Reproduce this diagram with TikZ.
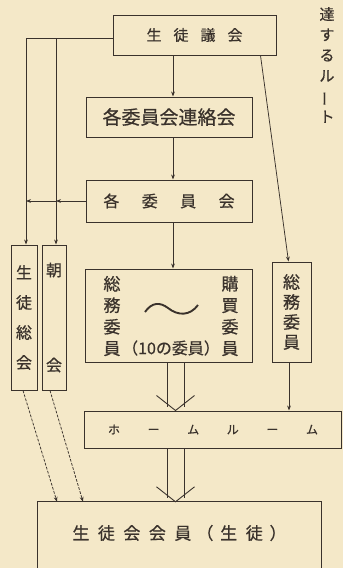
\documentclass[tikz,border=0pt]{standalone}
\usepackage{fontspec}
\setmainfont{Noto Sans CJK JP}[FakeBold=0.6]
\usetikzlibrary{arrows.meta}
\definecolor{paper}{RGB}{244,232,200}
\definecolor{ink}{RGB}{58,50,44}
\tikzset{
  box/.style={draw=ink, line width=1pt, inner sep=0pt, text=ink},
  lbl/.style={text=ink, inner sep=0pt, align=center},
  arr/.style={draw=ink, line width=0.75pt, -{Stealth[length=5pt,width=3.8pt]}},
  ln/.style={draw=ink, line width=0.9pt},
  dsh/.style={arr, dash pattern=on 2.8pt off 1.4pt}
}
\begin{document}
\begin{tikzpicture}[x=1pt,y=-1pt]
\fill[paper] (0,0) rectangle (343,568);
\useasboundingbox (0,0) rectangle (343,568);
\clip (0,0) rectangle (343,568);

% boxes
\node[box, minimum width=163pt, minimum height=40pt, font=\fontsize{15}{15}\selectfont] (giin) at (194.5,35)
  {生\hspace{0.8em}徒\hspace{0.8em}議\hspace{0.8em}会};
\node[box, minimum width=166pt, minimum height=40pt, font=\fontsize{19}{19}\selectfont] (renraku) at (169,117)
  {各委員会連絡会};
\node[box, minimum width=166pt, minimum height=42pt, font=\fontsize{16}{16}\selectfont] (iinkai) at (169,201)
  {各\hspace{1.4em}委\hspace{1.4em}員\hspace{1.4em}会};
\node[box, minimum width=26pt, minimum height=145pt, align=center, font=\fontsize{16}{30}\selectfont] (soukai) at (24,317.5)
  {生\\徒\\総\\会};
\node[box, minimum width=24pt, minimum height=145pt, align=center, font=\fontsize{16}{95}\selectfont] (choukai) at (54,317.5)
  {朝\\会};
\node[box, minimum width=167pt, minimum height=93pt] (mid) at (168.5,315.5) {};
\node[lbl, font=\fontsize{17}{21.5}\selectfont] (midl) at (112,316) {総\\務\\委\\員};
\node[lbl, font=\fontsize{17}{21.5}\selectfont] (midr) at (230,316) {購\\買\\委\\員};
\node[lbl, font=\fontsize{16}{16}\selectfont] (midc) at (171,348) {（10の委員）};
\draw[draw=ink, line width=1.9pt] (145,312) .. controls (152,302) and (160,302) .. (168,308)
  .. controls (178,316) and (190,316) .. (198,305);
\node[box, minimum width=39pt, minimum height=100pt, align=center, font=\fontsize{17}{20}\selectfont] (zoumu) at (291.5,312)
  {総\\務\\委\\員};
\node[box, minimum width=257pt, minimum height=37pt, font=\fontsize{12}{12}\selectfont] (home) at (213,429.5)
  {ホ\hspace{2.3em}ー\hspace{2.3em}ム\hspace{2.3em}ル\hspace{2.3em}ー\hspace{2.3em}ム};
\node[minimum width=283pt, minimum height=62pt, inner sep=0pt, text=ink, font=\fontsize{17}{17}\selectfont] (kaiin) at (179.5,533)
  {生\hspace{0.5em}徒\hspace{0.5em}会\hspace{0.5em}会\hspace{0.5em}員\hspace{0.3em}（\hspace{0.4em}生\hspace{0.5em}徒\hspace{0.4em}）};
\draw[ln, line width=1pt] ([yshift=-10pt]kaiin.south west) -- (kaiin.north west) -- (kaiin.north east) -- ([yshift=-10pt]kaiin.south east);

\node[lbl, font=\fontsize{15}{20.5}\selectfont] (route) at (327,65)
  {達\\す\\る\\ル\\\rotatebox[origin=c]{90}{ー}\\ト};

% vertical chain
\draw[arr] ([xshift=4pt]renraku.north |- giin.south) -- ([xshift=4pt]renraku.north);
\draw[arr] ([xshift=4pt]renraku.south) -- ([xshift=4pt]iinkai.north);
\draw[arr] ([xshift=4pt]iinkai.south) -- ([xshift=4pt]iinkai.south |- mid.north);

% left routes
\coordinate (tl) at ([yshift=-3pt]giin.west);
\coordinate (sn) at ([xshift=2pt]soukai.north);
\coordinate (cn) at ([xshift=2pt]choukai.north);
\draw[arr] (tl) -| (sn);
\draw[arr] (cn |- tl) -- (cn);
\draw[arr] (iinkai.west) -- (cn |- iinkai.west);
\draw[arr] (cn |- iinkai.west) -- (sn |- iinkai.west);

% right route
\draw[arr] ([xshift=-16pt]giin.south east) -- ([xshift=-3pt]zoumu.north);
\draw[arr] ([xshift=-2.5pt]zoumu.south) -- ([xshift=-2.5pt]zoumu.south |- home.north);

% double arrows
\coordinate (d1) at ([xshift=7pt]mid.south);
\coordinate (d1t) at (d1 |- home.north);
\draw[ln] ([xshift=-8.5pt]d1) -- ([xshift=-8.5pt,yshift=4pt]d1t);
\draw[ln] ([xshift=8.5pt]d1) -- ([xshift=8.5pt,yshift=4pt]d1t);
\draw[ln] ([xshift=-19pt,yshift=15pt]d1t) -- (d1t) -- ([xshift=19pt,yshift=15pt]d1t);

\coordinate (d2) at (d1 |- home.south);
\coordinate (d2t) at (d1 |- kaiin.north);
\draw[ln] ([xshift=-8.5pt]d2) -- ([xshift=-8.5pt,yshift=4pt]d2t);
\draw[ln] ([xshift=8.5pt]d2) -- ([xshift=8.5pt,yshift=4pt]d2t);
\draw[ln] ([xshift=-19pt,yshift=15pt]d2t) -- (d2t) -- ([xshift=19pt,yshift=15pt]d2t);

% dashed
\draw[dsh] ([xshift=-1pt]soukai.south) -- ([xshift=-122.5pt]kaiin.north);
\draw[dsh] ([xshift=-4pt]choukai.south) -- ([xshift=-96.5pt]kaiin.north);
\end{tikzpicture}
\end{document}
